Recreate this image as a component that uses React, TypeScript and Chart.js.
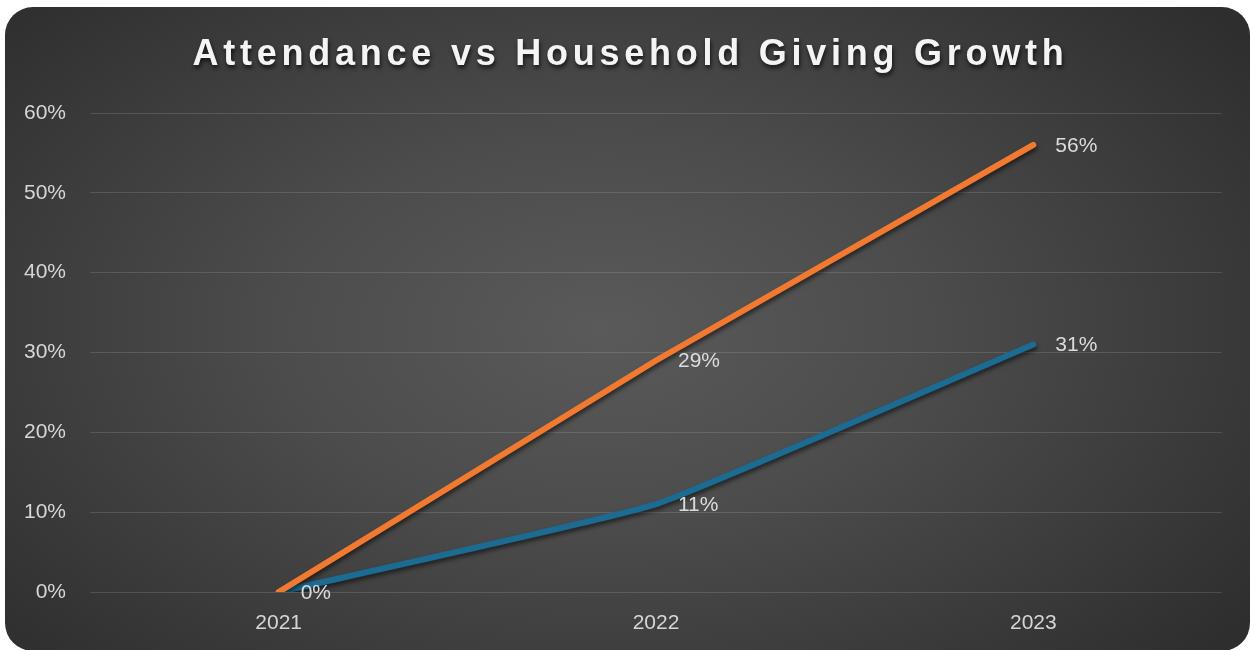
import React, { useEffect, useRef } from "react";
import { Chart, registerables } from "chart.js";

Chart.register(...registerables);

const TITLE = "Attendance vs Household Giving Growth";
const categories = ["2021", "2022", "2023"];
const attendanceGrowth = [0, 29, 56];
const givingGrowth = [0, 11, 31];
const yTicks = [0, 10, 20, 30, 40, 50, 60];

const FONT = "'Liberation Sans', Arial, sans-serif";

const shadowPlugin = {
  id: "lineShadow",
  beforeDatasetsDraw(chart: any) {
    const ctx = chart.ctx;
    ctx.save();
    ctx.shadowColor = "rgba(0,0,0,0.55)";
    ctx.shadowBlur = 4;
    ctx.shadowOffsetX = 1;
    ctx.shadowOffsetY = 3;
  },
  afterDatasetsDraw(chart: any) {
    chart.ctx.restore();
  },
};

const labelPlugin = {
  id: "valueLabels",
  afterDatasetsDraw(chart: any) {
    const ctx = chart.ctx;
    ctx.save();
    ctx.font = "21px " + FONT;
    ctx.fillStyle = "#dcdcdc";
    ctx.textAlign = "left";
    ctx.textBaseline = "middle";
    chart.data.datasets.forEach((ds: any, i: number) => {
      const meta = chart.getDatasetMeta(i);
      meta.data.forEach((pt: any, j: number) => {
        if (i === 1 && j === 0) return;
        ctx.fillText(ds.data[j] + "%", pt.x + 22, pt.y + 1);
      });
    });
    ctx.restore();
  },
};

const titlePlugin = {
  id: "spacedTitle",
  afterDraw(chart: any) {
    const ctx = chart.ctx;
    ctx.save();
    ctx.font = "bold 36px " + FONT;
    (ctx as any).letterSpacing = "4.75px";
    ctx.fillStyle = "#f4f4f4";
    ctx.textAlign = "center";
    ctx.textBaseline = "alphabetic";
    ctx.shadowColor = "rgba(0,0,0,0.7)";
    ctx.shadowBlur = 4;
    ctx.shadowOffsetX = 1;
    ctx.shadowOffsetY = 3;
    ctx.fillText(TITLE, chart.width / 2 + 3, 58);
    ctx.restore();
  },
};

export default function App() {
  const ref = useRef<HTMLCanvasElement | null>(null);

  useEffect(() => {
    if (!ref.current) return;
    const chart = new Chart(ref.current, {
      type: "line",
      data: {
        labels: categories,
        datasets: [
          {
            label: "Attendance",
            data: attendanceGrowth,
            borderColor: "#f27a30",
            borderWidth: 6,
            borderCapStyle: "round",
            borderJoinStyle: "round",
            pointRadius: 0,
            tension: 0,
          },
          {
            label: "Household Giving",
            data: givingGrowth,
            borderColor: "#1b6b93",
            borderWidth: 6,
            borderCapStyle: "round",
            borderJoinStyle: "round",
            pointRadius: 0,
            tension: 0.12,
          },
        ],
      },
      options: {
        responsive: false,
        animation: false,
        layout: { padding: { top: 106, right: 28, bottom: 0, left: 0 } },
        plugins: {
          legend: { display: false },
          title: { display: false },
          tooltip: { enabled: false },
        },
        scales: {
          x: {
            offset: true,
            afterFit(scale: any) {
              scale.height = 59;
            },
            grid: { display: false, drawTicks: false },
            border: { display: false },
            ticks: {
              color: "#d6d6d6",
              font: { size: 21, family: FONT },
              padding: 19,
            },
          },
          y: {
            min: 0,
            max: 60,
            afterFit(scale: any) {
              scale.width = 85;
            },
            afterBuildTicks(scale: any) {
              scale.ticks = yTicks.map((v) => ({ value: v }));
            },
            grid: { color: "rgba(255,255,255,0.13)", lineWidth: 1, drawTicks: false },
            border: { display: false },
            ticks: {
              color: "#d6d6d6",
              font: { size: 21, family: FONT },
              padding: 24,
              callback: (v: any) => v + "%",
            },
          },
        },
      },
      plugins: [shadowPlugin, labelPlugin, titlePlugin],
    });
    return () => chart.destroy();
  }, []);

  return (
    <div style={{ position: "fixed", left: 0, top: 0, width: 1250, height: 650, background: "#ffffff", overflow: "hidden" }}>
      <div
        style={{
          position: "absolute",
          left: 5,
          top: 7,
          width: 1245,
          height: 644,
          borderRadius: 28,
          overflow: "hidden",
          background:
            "radial-gradient(ellipse 65% 75% at 48% 50%, #5a5a5a 0%, #4c4c4c 40%, #2e2e2e 100%)",
        }}
      >
        <canvas ref={ref} width={1245} height={644} style={{ display: "block" }} />
      </div>
    </div>
  );
}
